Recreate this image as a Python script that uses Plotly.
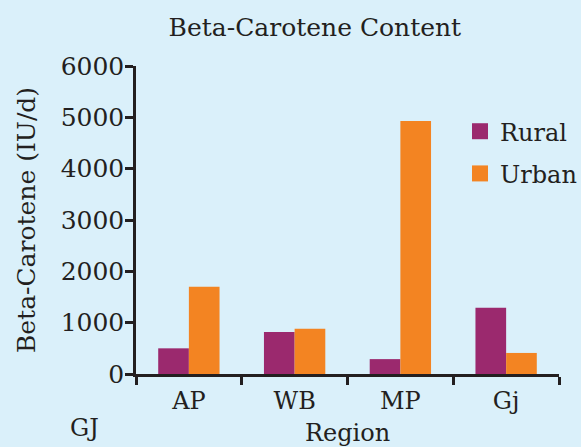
import plotly.graph_objects as go

regions = ["AP", "WB", "MP", "Gj"]
rural = [500, 820, 290, 1290]
urban = [1700, 880, 4930, 410]
y_ticks = [0, 1000, 2000, 3000, 4000, 5000, 6000]

FONT = "DejaVu Serif"
INK = "#231f20"
BG = "#daf0fa"
RURAL_C = "#9b296e"
URBAN_C = "#f38422"

fig = go.Figure()
fig.add_trace(go.Bar(name="Rural", x=regions, y=rural, marker_color=RURAL_C,
                     marker_line_width=0, showlegend=False))
fig.add_trace(go.Bar(name="Urban", x=regions, y=urban, marker_color=URBAN_C,
                     marker_line_width=0, showlegend=False))
# legend-only entries so the swatches can be larger squares
for name, col in [("Rural", RURAL_C), ("Urban", URBAN_C)]:
    fig.add_trace(go.Scatter(name=name, x=[None], y=[None], mode="markers",
                             legendgroup=name,
                             marker=dict(symbol="square", size=18, color=col)))

fig.update_layout(
    width=581, height=447,
    barmode="group", bargap=0.42, bargroupgap=0,
    paper_bgcolor=BG, plot_bgcolor=BG,
    font=dict(family=FONT, size=24, color=INK),
    title=dict(text="Beta-Carotene Content", x=0.542, xanchor="center",
               y=0.94, yanchor="middle", font=dict(size=25)),
    margin=dict(l=136, r=22, t=66, b=73, autoexpand=False),
    legend=dict(x=0.766, y=0.86, xanchor="left", yanchor="top",
                bgcolor="rgba(0,0,0,0)", font=dict(size=24),
                traceorder="grouped", tracegroupgap=8, itemwidth=30),
    annotations=[dict(text="GJ", x=(84 - 136) / 423, y=(374 - 428) / 308,
                      xref="paper", yref="paper", xanchor="center", yanchor="middle",
                      showarrow=False, font=dict(size=24))],
)

fig.update_xaxes(
    type="category", range=[-0.5, 3.5], automargin=False,
    showline=True, linecolor=INK, linewidth=2.5,
    ticks="outside", tickson="boundaries", ticklen=8, tickwidth=2.5, tickcolor=INK,
    ticklabelstandoff=3, showgrid=False,
    title=dict(text="Region", standoff=24, font=dict(size=24)),
)
fig.update_yaxes(
    range=[0, 6000], tickvals=y_ticks, automargin=False,
    showline=True, linecolor=INK, linewidth=2.5,
    ticks="outside", ticklen=8, tickwidth=2.5, tickcolor=INK,
    ticklabelstandoff=-4, tickfont=dict(size=25),
    showgrid=False, zeroline=False,
    title=dict(text="Beta-Carotene (IU/d)", standoff=18, font=dict(size=25)),
)

# drop the default page margin so the figure sits at the window's corner
fig.write_html("out.html", config={"displayModeBar": False},
               post_script="document.body.style.margin='0';"
                           f"document.body.style.background='{BG}';")
